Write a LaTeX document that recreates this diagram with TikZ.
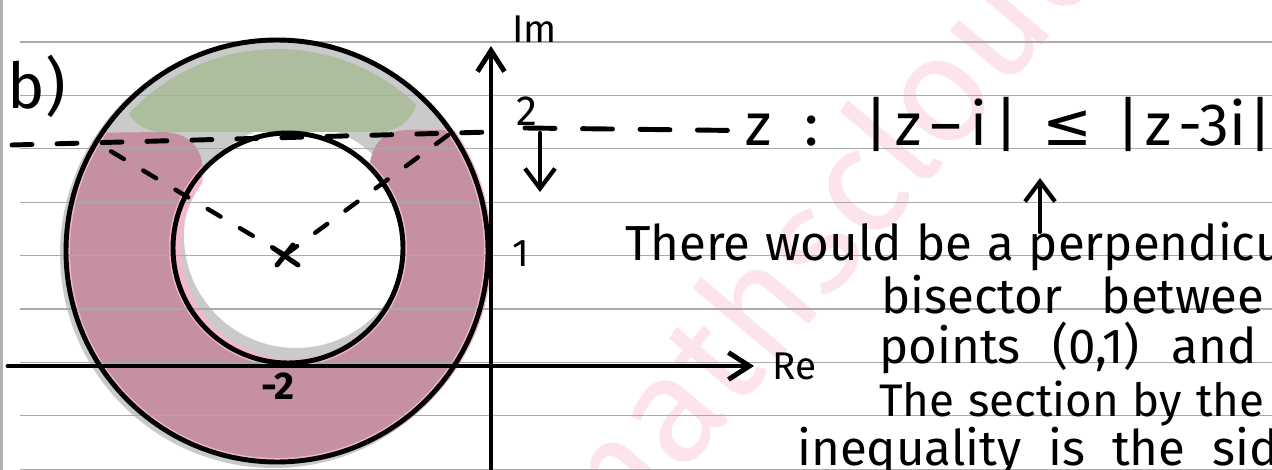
\documentclass[tikz,border=0pt]{standalone}
\usepackage{fontspec}
\setmainfont{Fira Sans}
\newfontfamily\symfont{DejaVu Sans}
\usetikzlibrary{positioning,arrows.meta}

\definecolor{ruleGray}{RGB}{170,170,170}
\definecolor{marginGray}{RGB}{175,175,182}
\definecolor{shadeGray}{RGB}{202,202,202}
\definecolor{sage}{RGB}{173,190,158}
\definecolor{mauve}{RGB}{197,144,159}
\definecolor{blush}{RGB}{244,184,202}
\definecolor{wmPink}{RGB}{253,228,236}

\begin{document}
\begin{tikzpicture}[x=0.02cm, y=0.02cm,
    node distance=0.3cm,
    rule/.style={draw=ruleGray, line width=0.7pt},
    pen/.style={line width=2.8pt, line cap=round},
    dashpen/.style={pen, dash pattern=on 0.4cm off 0.5cm},
    raydash/.style={pen, line width=2.5pt, dash pattern=on 0.3cm off 0.45cm},
    axis/.style={pen, -{Straight Barb[length=4.2mm, width=5.4mm]}},
    arr/.style={line width=2.4pt, line cap=round, -{Straight Barb[length=4mm, width=6mm]}},
    hand/.style={inner sep=0pt, anchor=base west, font=\fontsize{28}{30}\selectfont},
    gap/.style={execute at begin node={\spaceskip=#1\relax}},
    lab/.style={inner sep=0pt, font=\fontsize{22}{24}\selectfont},
]
% paper
\useasboundingbox (0,0) rectangle (1272,470);
\fill[white] (0,0) rectangle (1272,470);
\node[rotate=50, text=wmPink, font=\fontsize{86}{86}\selectfont] (wmark) at (815,240) {mathscloud};

% centres
\coordinate (cO) at (277,219);
\coordinate (cI) at (288,222);
\coordinate (cen) at (285,215);

% shading of the region
\fill[shadeGray, even odd rule] (274,216) circle[radius=214] (296,234) circle[radius=112];
\begin{scope}
  \clip (0,0) -- (0,336) -- (160,338) .. controls (200,338) and (208,310) .. (200,275)
        -- (cI) -- (368,290) .. controls (370,325) and (380,340) .. (410,340)
        -- (500,340) -- (500,0) -- cycle;
  \fill[blush, even odd rule] (279,219) circle[radius=213] (292,222) circle[radius=111];
  \fill[mauve, even odd rule] (cO) circle[radius=207] (cI) circle[radius=119];
\end{scope}
\begin{scope}
  \clip (cO) circle[radius=202];
  \fill[sage, rounded corners=22] (123,338) rectangle (418,450);
\end{scope}

% ruled lines
\foreach \k in {0,...,8}
  \draw[rule] (20,{428-53.4*\k}) -- (1272,{428-53.4*\k});
\draw[marginGray, line width=1.6pt] (1.5,0) -- (1.5,470);

% axes
\coordinate (reL) at (8,104);
\coordinate (reR) at (754,104);
\coordinate (imB) at (491,0);
\coordinate (imT) at (491,424);
\draw[axis] (reL) -- (reR);
\draw[axis] (imB) -- (imT);

% circles
\draw[pen] (cO) circle[radius=211];
\draw[pen] (cI) circle[radius=115];

% boundary line and radii
\coordinate (dL) at (12,325);
\coordinate (pL) at (97,327);
\coordinate (pR) at (451,337);
\coordinate (dM) at (491,338);
\draw[dashpen] (dL) -- (dM);
\draw[raydash] (cen) -- (pL);
\draw[raydash] (cen) -- (pR);
\draw[pen] (cen) ++(-12,7) -- ++(25,-17);
\draw[pen] (cen) ++(-8,-10) -- ++(16,20);

% labels
\node[lab, font=\fontsize{36}{38}\selectfont] (bpart) at (37,384) {b)};
\node[lab, above right=0.06cm and 0.42cm of imT] (imlab) {Im};
\node[lab, right=0.36cm of reR] (relab) {Re};
\node[lab, font=\fontsize{24}{26}\selectfont] (ytwo) at (527,359) {2};
\node[lab] (yone) at (521,216) {1};
\node[lab, font=\bfseries\fontsize{22}{24}\selectfont] (xtwo) at (278,84) {-2};

% the locus
\node[hand, font=\fontsize{34}{36}\selectfont] (zlab) at (745,324) {z\hspace{0.55em}:};
\node[hand, font=\fontsize{34}{36}\selectfont] (ineq) at (864,324)
  {|\hspace{0.12em}z\hspace{0.15em}–\hspace{0.15em}i\hspace{0.12em}|\hspace{0.4em}{\symfont ≤}\hspace{0.4em}|\hspace{0.08em}z\hspace{0.12em}-3i\hspace{0.05em}|};
\coordinate (dR) at (525,342);
\draw[pen, dash pattern=on 0.6cm off 0.55cm] (dR) -- (zlab.west);
\coordinate (dnS) at (540,337);
\draw[arr] (dnS) -- ++(0,-59);
\coordinate (upS) at (1040,238);
\draw[arr] (upS) -- ++(0,54);

% note
\node[hand, gap=0.3em] (nota) at (625,209) {There would be a perpendicu};
\node[hand, gap=0.8em] (notb) at (881,156) {bisector betwee};
\node[hand, gap=0.65em] (notc) at (879,106) {points (0,1) and};
\node[hand, gap=0.3em, font=\fontsize{26}{28}\selectfont] (notd) at (879,53) {The section by the};
\node[hand, gap=0.55em] (note) at (797,4) {inequality is the sid};
\end{tikzpicture}
\end{document}
